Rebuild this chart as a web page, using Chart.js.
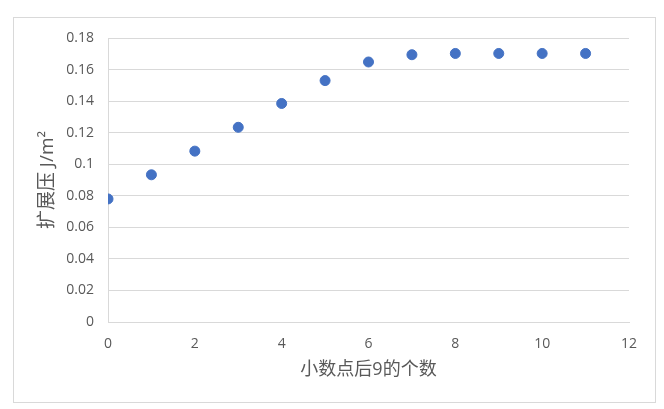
<!DOCTYPE html>
<html>
<head>
<meta charset="utf-8">
<script src="https://cdn.jsdelivr.net/npm/chart.js@4"></script>
<style>
html,body{margin:0;padding:0;background:#fff;}
#wrap{width:664px;height:409px;position:relative;}
canvas{display:block;}
</style>
</head>
<body>
<div id="wrap"><canvas id="c" width="664" height="409"></canvas></div>
<script>
const xValues = [0, 1, 2, 3, 4, 5, 6, 7, 8, 9, 10, 11];
const yValues = [0.078, 0.0933, 0.1083, 0.1234, 0.1385, 0.153, 0.1648, 0.1694, 0.1702, 0.1702, 0.1702, 0.1702];
const xTitle = '小数点后9的个数';
const yTitle = '扩展压 J/m²';

const FONT = '"Open Sans","Noto Sans CJK SC",sans-serif';

const borderPlugin = {
  id: 'outerBorder',
  beforeDraw(chart) {
    const ctx = chart.ctx;
    ctx.save();
    ctx.fillStyle = '#fff';
    ctx.fillRect(0, 0, chart.width, chart.height);
    ctx.strokeStyle = '#d9d9d9';
    ctx.lineWidth = 1;
    ctx.strokeRect(13.5, 17.5, 642, 385);
    ctx.restore();
  }
};

new Chart(document.getElementById('c'), {
  type: 'scatter',
  data: {
    datasets: [{
      data: xValues.map((x, i) => ({x: x, y: yValues[i]})),
      backgroundColor: '#4472C4',
      borderColor: '#4472C4',
      pointRadius: 5,
      pointHoverRadius: 5
    }]
  },
  options: {
    responsive: false,
    animation: false,
    layout: {padding: {left: 0, right: 35, top: 38, bottom: 0}},
    plugins: {legend: {display: false}, tooltip: {enabled: false}},
    scales: {
      x: {
        type: 'linear',
        min: 0, max: 12,
        ticks: {stepSize: 2, color: '#595959', font: {family: FONT, size: 14}, padding: 6},
        grid: {display: false},
        border: {display: true, color: '#d9d9d9', width: 1},
        title: {display: true, text: xTitle, color: '#595959', font: {family: FONT, size: 18}, padding: {top: 0, bottom: 28}},
        afterFit(s) { s.height = 87; }
      },
      y: {
        min: 0, max: 0.18,
        ticks: {stepSize: 0.02, color: '#595959', font: {family: FONT, size: 14}, padding: 14,
          callback: v => String(+v.toFixed(2))},
        grid: {color: '#d9d9d9', drawTicks: false},
        border: {display: true, color: '#d9d9d9', width: 1},
        title: {display: true, text: yTitle, color: '#595959', font: {family: FONT, size: 19}, padding: {top: 36, bottom: 0}},
        afterFit(s) { s.width = 108; }
      }
    }
  },
  plugins: [borderPlugin]
});
</script>
</body>
</html>
